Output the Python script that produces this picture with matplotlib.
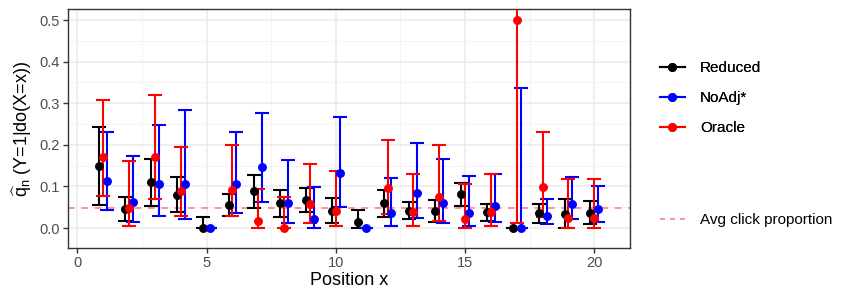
import numpy as np
import matplotlib
matplotlib.use("Agg")
import matplotlib.pyplot as plt
from matplotlib.lines import Line2D

plt.rcParams['font.family'] = ['Liberation Sans', 'DejaVu Sans']
plt.rcParams['mathtext.fontset'] = 'custom'
plt.rcParams['mathtext.rm'] = 'Liberation Sans'
plt.rcParams['mathtext.it'] = 'Liberation Sans:italic'

positions = list(range(1, 21))

# Reduced (black)
red_mid = [0.150, 0.046, 0.110, 0.080, 0.000, 0.055, 0.089, 0.060, 0.067, 0.042,
           0.014, 0.060, 0.042, 0.042, 0.082, 0.038, 0.000, 0.037, 0.034, 0.037]
red_lo = [0.055, 0.018, 0.052, 0.038, 0.000, 0.030, 0.049, 0.026, 0.038, 0.012,
          0.000, 0.026, 0.021, 0.014, 0.053, 0.017, 0.000, 0.011, 0.000, 0.009]
red_hi = [0.244, 0.075, 0.167, 0.123, 0.026, 0.081, 0.128, 0.092, 0.097, 0.072,
          0.043, 0.092, 0.063, 0.068, 0.109, 0.059, 0.000, 0.059, 0.069, 0.064]

# NoAdj* (blue)
noadj_mid = [0.114, 0.063, 0.106, 0.107, 0.000, 0.107, 0.147, 0.060, 0.021, 0.133,
             0.000, 0.036, 0.085, 0.060, 0.037, 0.053, 0.000, 0.029, 0.058, 0.046]
noadj_lo = [0.043, 0.014, 0.030, 0.022, 0.000, 0.036, 0.062, 0.013, 0.000, 0.050,
            0.000, 0.004, 0.023, 0.013, 0.005, 0.015, 0.000, 0.009, 0.022, 0.015]
noadj_hi = [0.231, 0.173, 0.248, 0.283, 0.000, 0.231, 0.277, 0.163, 0.099, 0.268,
            0.000, 0.120, 0.204, 0.166, 0.126, 0.129, 0.337, 0.071, 0.123, 0.102]

# Oracle (red); NaN where not shown
orc_mid = [0.171, 0.049, 0.171, 0.088, np.nan, 0.091, 0.018, 0.000, 0.057, 0.041,
           np.nan, 0.097, 0.039, 0.075, 0.022, 0.038, 0.500, 0.098, 0.023, 0.023]
orc_lo = [0.077, 0.006, 0.071, 0.028, np.nan, 0.030, 0.000, 0.000, 0.012, 0.004,
          np.nan, 0.033, 0.005, 0.017, 0.000, 0.005, 0.013, 0.027, 0.000, 0.000]
orc_hi = [0.309, 0.162, 0.321, 0.194, np.nan, 0.200, 0.093, 0.075, 0.154, 0.138,
          np.nan, 0.211, 0.130, 0.200, 0.107, 0.129, 0.700, 0.232, 0.118, 0.118]

avg_click = 0.049

series = [
    ("Reduced", red_mid, red_lo, red_hi, "black", -0.15),
    ("NoAdj*", noadj_mid, noadj_lo, noadj_hi, "blue", 0.15),
    ("Oracle", orc_mid, orc_lo, orc_hi, "red", 0.0),
]

fig = plt.figure(figsize=(8.47, 3.03), dpi=100)
ax = fig.add_axes([68/847, 1 - 248/303, (630-68)/847, (248-9.3)/303])

# grid
ax.set_axisbelow(True)
ax.set_xticks([0, 5, 10, 15, 20])
ax.set_xticks([2.5, 7.5, 12.5, 17.5], minor=True)
ax.set_yticks([0, 0.1, 0.2, 0.3, 0.4, 0.5])
ax.set_yticks([0.05, 0.15, 0.25, 0.35, 0.45], minor=True)
ax.grid(which='major', color='#EBEBEB', lw=1.1)
ax.grid(which='minor', color='#F2F2F2', lw=0.6)

ax.axhline(avg_click, color='#FF8080', lw=1.2, ls=(0, (4, 4)), zorder=1)

handles = []
for name, mid, lo, hi, col, off in series:
    x = np.array(positions) + off
    mid = np.array(mid, float)
    lo = np.array(lo, float)
    hi = np.array(hi, float)
    ax.errorbar(x, mid, yerr=[mid - lo, hi - mid], fmt='o', color=col,
                ms=5.4, elinewidth=1.5, capsize=4.7, capthick=1.5, zorder=3)
    handles.append(Line2D([], [], color=col, marker='o', ms=5.4, lw=1.5, label=name))

ax.set_xlim(-0.36, 21.38)
ax.set_ylim(-0.048, 0.526)

for s in ax.spines.values():
    s.set_color('#333333')
    s.set_linewidth(1.0)
ax.tick_params(which='major', length=3.5, width=1.0, color='#333333',
               labelcolor='#4D4D4D', labelsize=10.5, pad=2.5)
ax.tick_params(which='minor', length=0)
ax.set_xticklabels(['0', '5', '10', '15', '20'])
ax.set_yticklabels(['0.0', '0.1', '0.2', '0.3', '0.4', '0.5'])

ax.set_xlabel('Position x', fontsize=13, labelpad=1)
ax.set_ylabel(r'$\widehat{\mathrm{q}}_\mathrm{n}$ (Y=1|do(X=x))', fontsize=13, labelpad=4)

leg1 = fig.legend(handles=handles, loc='upper left', bbox_to_anchor=(654/847, 1 - 55/303),
                  frameon=False, fontsize=11, handlelength=1.6, handletextpad=1.0,
                  labelspacing=1.05, borderaxespad=0)
fig.add_artist(leg1)
avg_h = Line2D([], [], color='#FF8080', lw=1.2, ls=(0, (3, 3)), label='Avg click proportion')
fig.legend(handles=[avg_h], loc='upper left', bbox_to_anchor=(654/847, 1 - 207/303),
           frameon=False, fontsize=11, handlelength=1.6, handletextpad=1.0,
           borderaxespad=0)

fig.savefig('out.png', dpi=100)
